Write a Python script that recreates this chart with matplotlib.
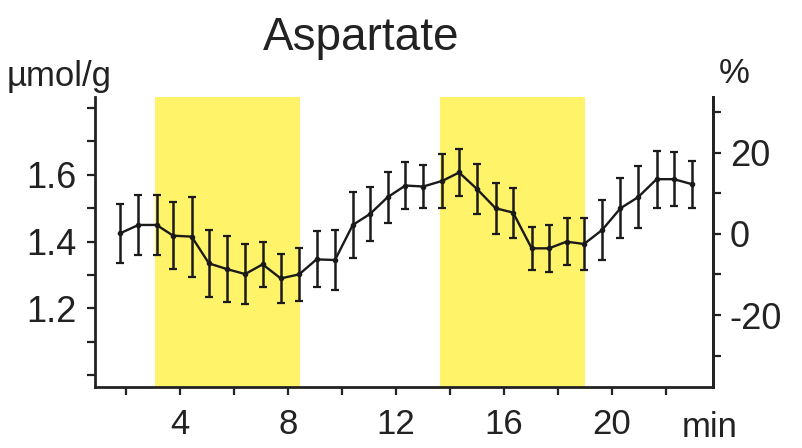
import numpy as np
import matplotlib
matplotlib.use("Agg")
import matplotlib.pyplot as plt
from matplotlib.ticker import MultipleLocator

plt.rcParams['font.family'] = ['Liberation Sans', 'DejaVu Sans']

# sampling times (min) and aspartate content (umol/g) with SEM
t_min = [1.78, 2.46, 3.13, 3.74, 4.43, 5.07, 5.73, 6.41, 7.06, 7.73, 8.41,
         9.06, 9.74, 10.40, 11.04, 11.69, 12.35, 13.01, 13.72, 14.34, 15.01,
         15.69, 16.34, 17.03, 17.67, 18.32, 18.97, 19.64, 20.32, 20.97,
         21.66, 22.30, 22.97]
asp = [1.425, 1.450, 1.450, 1.418, 1.415, 1.335, 1.318, 1.303, 1.332, 1.290,
       1.302, 1.347, 1.345, 1.450, 1.483, 1.533, 1.568, 1.565, 1.582, 1.607,
       1.557, 1.500, 1.487, 1.380, 1.380, 1.400, 1.393, 1.435, 1.500, 1.533,
       1.587, 1.587, 1.572]
sem = [0.088, 0.090, 0.090, 0.100, 0.120, 0.100, 0.100, 0.090, 0.068, 0.073,
       0.080, 0.084, 0.090, 0.100, 0.080, 0.076, 0.070, 0.065, 0.080, 0.070,
       0.075, 0.076, 0.075, 0.065, 0.070, 0.070, 0.078, 0.090, 0.090, 0.093,
       0.085, 0.080, 0.070]

# stimulation periods (min)
stim = [(3.07, 8.44), (13.65, 19.0)]

fig = plt.figure(figsize=(8.02, 4.48), dpi=100)
ax = fig.add_axes([0.1185, 0.1362, 0.7706, 0.6473])

for a, b in stim:
    ax.axvspan(a, b, color='#fff36a', lw=0, zorder=0)

ax.errorbar(t_min, asp, yerr=sem, color='#1a1a1a', lw=1.7, elinewidth=1.8,
            capsize=3, capthick=1.6, marker='o', ms=3, zorder=3)

ax.set_xlim(0.85, 23.75)
ax.set_ylim(0.965, 1.833)

ax.spines['top'].set_visible(False)
for s in ('left', 'bottom', 'right'):
    ax.spines[s].set_linewidth(2)
    ax.spines[s].set_color('#222222')

ax.xaxis.set_major_locator(MultipleLocator(4))
ax.xaxis.set_minor_locator(MultipleLocator(2))
ax.set_xticks([4, 8, 12, 16, 20])
ax.yaxis.set_major_locator(MultipleLocator(0.2))
ax.yaxis.set_minor_locator(MultipleLocator(0.1))
ax.set_yticks([1.2, 1.4, 1.6])
ax.set_yticklabels(['1.2', '1.4', '1.6'])

ax.tick_params(axis='both', which='both', direction='out', width=1.6,
               length=6, colors='#222222', labelsize=26, labelcolor='#222222')
ax.tick_params(axis='y', pad=7)
ax.tick_params(axis='x', labelsize=25, pad=9)

# percent-change axis on the right
ax2 = ax.twinx()
ax2.set_ylim(-37.7, 33.7)
ax2.yaxis.set_major_locator(MultipleLocator(20))
ax2.yaxis.set_minor_locator(MultipleLocator(10))
ax2.set_yticks([-20, 0, 20])
ax2.set_yticklabels(['-20', '0', '20'])
ax2.spines['top'].set_visible(False)
ax2.spines['left'].set_visible(False)
ax2.spines['bottom'].set_visible(False)
ax2.spines['right'].set_linewidth(2)
ax2.spines['right'].set_color('#222222')
ax2.tick_params(axis='y', which='both', direction='out', width=1.6, length=6,
                colors='#222222', labelsize=26, labelcolor='#222222', pad=6)

fig.text(0.45, 0.915, 'Aspartate', ha='center', va='center', fontsize=33,
         color='#222222')
fig.text(0.008, 0.83, '\u00b5mol/g', ha='left', va='center', fontsize=25,
         color='#222222')
fig.text(0.915, 0.835, '%', ha='center', va='center', fontsize=25,
         color='#222222')
fig.text(0.885, 0.045, 'min', ha='center', va='center', fontsize=25,
         color='#222222')

fig.savefig('out.png', dpi=100)
